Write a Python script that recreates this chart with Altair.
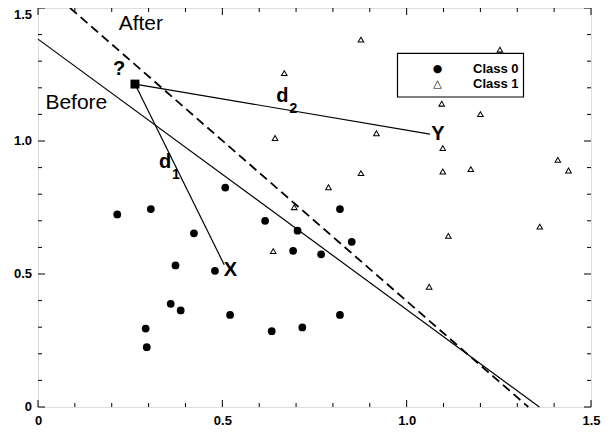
import altair as alt
import pandas as pd

# ---- data ----
class0_x = [0.215, 0.306, 0.423, 0.373, 0.480, 0.360, 0.387, 0.292, 0.295, 0.521,
            0.508, 0.616, 0.634, 0.692, 0.704, 0.717, 0.819, 0.851, 0.768, 0.819]
class0_y = [0.724, 0.744, 0.653, 0.532, 0.512, 0.388, 0.363, 0.295, 0.225, 0.346,
            0.825, 0.700, 0.285, 0.587, 0.663, 0.299, 0.744, 0.621, 0.574, 0.346]

class1_x = [0.668, 0.643, 0.695, 0.876, 1.253, 1.095, 1.200, 0.918, 1.098, 0.876,
            1.098, 1.174, 1.410, 1.439, 0.788, 1.113, 1.361, 1.061, 0.638]
class1_y = [1.255, 1.011, 0.751, 1.381, 1.343, 1.140, 1.101, 1.029, 0.973, 0.879,
            0.885, 0.894, 0.929, 0.889, 0.826, 0.643, 0.678, 0.452, 0.586]

class_names = ["Class 0", "Class 1"]
class_glyphs = ["●", "△"]

query_x = [0.263]
query_y = [1.214]

# segments: before boundary, d1, d2 (solid); after boundary (dashed)
solid_x1 = [0.0, 0.263, 0.263]
solid_y1 = [1.383, 1.214, 1.214]
solid_x2 = [1.36, 0.505, 1.063]
solid_y2 = [0.0, 0.535, 1.026]

dash_x1 = [0.087]
dash_y1 = [1.5]
dash_x2 = [1.33]
dash_y2 = [0.0]

# annotations
big_text = ["After", "Before"]
big_x = [0.279, 0.104]
big_y = [1.416, 1.121]

bold_text = ["?", "X", "Y", "d", "d"]
bold_x = [0.220, 0.522, 1.085, 0.345, 0.663]
bold_y = [1.249, 0.492, 1.004, 0.898, 1.148]

sub_text = ["1", "2"]
sub_x = [0.374, 0.693]
sub_y = [0.858, 1.105]

major_ticks = [0.0, 0.5, 1.0, 1.5]
minor_ticks = [0.1, 0.2, 0.3, 0.4, 0.6, 0.7, 0.8, 0.9, 1.1, 1.2, 1.3, 1.4]
y_label_vals = [0.0, 0.5, 1.0]
y_label_text = ["0", "0.5", "1.0"]
y_top_val = [1.5]
y_top_text = ["1.5"]

W, H = 553, 399
FONT = "Liberation Sans"

# filled circle, and a hollow triangle drawn as a ring path
HOLLOW_TRIANGLE = ("M0,-0.9L0.95,0.75L-0.95,0.75Z"
                   "M0,-0.38L-0.5,0.48L0.5,0.48Z")
class_shapes = ["circle", HOLLOW_TRIANGLE]
shape_scale = alt.Scale(domain=class_names, range=class_shapes)

pts = pd.DataFrame({
    "x": class0_x + class1_x,
    "y": class0_y + class1_y,
    "cls": [class_names[0]] * len(class0_x) + [class_names[1]] * len(class1_x),
})
solid = pd.DataFrame({"x": solid_x1, "y": solid_y1, "x2": solid_x2, "y2": solid_y2})
dashed = pd.DataFrame({"x": dash_x1, "y": dash_y1, "x2": dash_x2, "y2": dash_y2})
query = pd.DataFrame({"x": query_x, "y": query_y})
big = pd.DataFrame({"t": big_text, "x": big_x, "y": big_y})
bold = pd.DataFrame({"t": bold_text, "x": bold_x, "y": bold_y})
sub = pd.DataFrame({"t": sub_text, "x": sub_x, "y": sub_y})
majors = pd.DataFrame({"v": major_ticks})
minors = pd.DataFrame({"v": minor_ticks})
ylab = pd.DataFrame({"v": y_label_vals, "t": y_label_text})
ytop = pd.DataFrame({"v": y_top_val, "t": y_top_text})

xscale = alt.Scale(domain=[0, 1.5], nice=False, zero=False)
yscale = alt.Scale(domain=[0, 1.5], nice=False, zero=False)

label_expr = "datum.value == 0 ? '0' : format(datum.value, '.1f')"
xaxis = alt.Axis(values=major_ticks, labelExpr=label_expr, ticks=False, tickSize=0,
                 domain=False, grid=False, title=None, labelFontSize=13,
                 labelFontWeight="bold", labelFont=FONT, labelColor="black",
                 labelPadding=7, labelFlush=False, labelOverlap=False)
yaxis = alt.Axis(values=major_ticks, labels=False, ticks=False, tickSize=0,
                 domain=False, grid=False, title=None)

X = alt.X("x:Q", scale=xscale, axis=xaxis)
Y = alt.Y("y:Q", scale=yscale, axis=yaxis)

points = alt.Chart(pts).mark_point(filled=True, color="black", opacity=1,
                                   size=60).encode(
    x=X, y=Y, shape=alt.Shape("cls:N", scale=shape_scale, legend=None))

solid_lines = alt.Chart(solid).mark_rule(color="black", strokeWidth=1.2).encode(
    x=X, y=Y, x2="x2:Q", y2="y2:Q")
dashed_lines = alt.Chart(dashed).mark_rule(color="black", strokeWidth=1.8,
                                           strokeDash=[9, 5]).encode(
    x=X, y=Y, x2="x2:Q", y2="y2:Q")

query_pt = alt.Chart(query).mark_point(shape="square", filled=True, color="black",
                                       size=80, opacity=1).encode(x=X, y=Y)

big_lbl = alt.Chart(big).mark_text(font=FONT, fontSize=21, color="black",
                                   align="center", baseline="alphabetic").encode(
    x=X, y=Y, text="t:N")
bold_lbl = alt.Chart(bold).mark_text(font=FONT, fontSize=20, fontWeight="bold",
                                     color="black", align="center",
                                     baseline="alphabetic").encode(
    x=X, y=Y, text="t:N")
sub_lbl = alt.Chart(sub).mark_text(font=FONT, fontSize=14, fontWeight="bold",
                                   color="black", align="center",
                                   baseline="alphabetic").encode(
    x=X, y=Y, text="t:N")

# y tick labels (top one kept inside the drawing area)
ylab_lbl = alt.Chart(ylab).mark_text(font=FONT, fontSize=13, fontWeight="bold",
                                     color="black", align="right",
                                     baseline="middle").encode(
    y=alt.Y("v:Q", scale=yscale, axis=yaxis), x=alt.value(-6), text="t:N")
ytop_lbl = alt.Chart(ytop).mark_text(font=FONT, fontSize=13, fontWeight="bold",
                                     color="black", align="right",
                                     baseline="top", dy=1).encode(
    y=alt.Y("v:Q", scale=yscale, axis=yaxis), x=alt.value(-6), text="t:N")

def xticks(df, length):
    base = alt.Chart(df).mark_rule(color="black", strokeWidth=1)
    bottom = base.encode(x=alt.X("v:Q", scale=xscale, axis=xaxis),
                         y=alt.value(H), y2=alt.value(H - length))
    top = base.encode(x=alt.X("v:Q", scale=xscale, axis=xaxis),
                      y=alt.value(0), y2=alt.value(length))
    return bottom + top

def yticks(df, length):
    base = alt.Chart(df).mark_rule(color="black", strokeWidth=1)
    left = base.encode(y=alt.Y("v:Q", scale=yscale, axis=yaxis),
                       x=alt.value(0), x2=alt.value(length))
    right = base.encode(y=alt.Y("v:Q", scale=yscale, axis=yaxis),
                        x=alt.value(W), x2=alt.value(W - length))
    return left + right

# legend box (pixel placement inside the plot area)
LEG_X0, LEG_X1, LEG_Y0, LEG_Y1 = 359.5, 485.5, 45.3, 89
ROW_Y = [60.5, 75.5]
SYM_X, TXT_X = 399.5, 435
SYM_SIZE = [11, 11]

legend_box = alt.Chart(pd.DataFrame({"cls": class_names[:1]})).mark_rect(
    fill="white", stroke="black", strokeWidth=1.2).encode(
    x=alt.value(LEG_X0), x2=alt.value(LEG_X1),
    y=alt.value(LEG_Y0), y2=alt.value(LEG_Y1))

legend_layers = [legend_box]
for i, name in enumerate(class_names):
    row = alt.Chart(pd.DataFrame({"cls": [name], "g": [class_glyphs[i]]}))
    legend_layers.append(
        row.mark_text(font="DejaVu Sans", fontSize=SYM_SIZE[i], color="black",
                      align="center", baseline="middle").encode(
            x=alt.value(SYM_X), y=alt.value(ROW_Y[i]), text="g:N"))
    legend_layers.append(
        row.mark_text(font=FONT, fontSize=13, fontWeight="bold", color="black",
                      align="left", baseline="middle").encode(
            x=alt.value(TXT_X), y=alt.value(ROW_Y[i]), text="cls:N"))

chart = alt.layer(
    xticks(majors, 7), xticks(minors, 4), yticks(majors, 7), yticks(minors, 4),
    solid_lines, dashed_lines, points, query_pt, big_lbl, bold_lbl, sub_lbl,
    ylab_lbl, ytop_lbl, *legend_layers,
).properties(
    width=W, height=H,
    autosize=alt.AutoSizeParams(type="none"),
    padding={"left": 30, "top": 0, "right": 14, "bottom": 22},
).configure_view(
    stroke="black", strokeWidth=1.5
).configure(background="white")

chart.save("out.html", embed_options={"renderer": "svg", "actions": False})
